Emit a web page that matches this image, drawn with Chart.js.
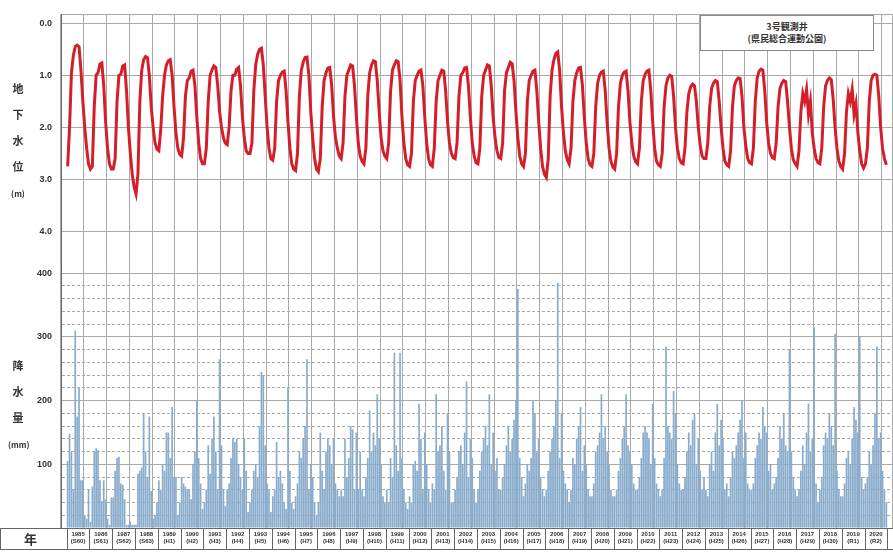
<!DOCTYPE html>
<html lang="ja">
<head>
<meta charset="utf-8">
<script src="https://cdn.jsdelivr.net/npm/chart.js@4.4.1/dist/chart.umd.min.js"></script>
<style>
  html, body { margin: 0; padding: 0; background: #fff; }
  #wrap { position: relative; width: 893px; height: 552px; font-family: "Noto Sans CJK JP", sans-serif; color: #333; }
  #chart { position: absolute; left: 0; top: 0; }
  .vtitle { position: absolute; left: 8px; width: 20px; text-align: center; font-weight: bold; font-size: 11px; line-height: 26px; }
  .vtitle small { font-size: 8px; font-weight: bold; }
  #yearCell { position: absolute; left: 0; top: 529px; width: 61px; height: 20px; line-height: 20px; text-align: center; font-weight: bold; font-size: 13px; }
  #legendBox { position: absolute; left: 700px; top: 15px; width: 174px; height: 36px; border: 1px solid #888; background: #fff;
               text-align: center; font-size: 9px; font-weight: bold; line-height: 12px; padding-top: 5px; box-sizing: border-box; }
</style>
</head>
<body>
<div id="wrap">
  <canvas id="chart" width="893" height="552"></canvas>
  <div class="vtitle" style="top:75px">地<br>下<br>水<br>位<br><small>(m)</small></div>
  <div class="vtitle" style="top:352px">降<br>水<br>量<br><small>(mm)</small></div>
  <div id="yearCell">年</div>
  <div id="legendBox">3号観測井<br>(県民総合運動公園)</div>
</div>
<script>
const years = [1985, 1986, 1987, 1988, 1989, 1990, 1991, 1992, 1993, 1994, 1995, 1996,
  1997, 1998, 1999, 2000, 2001, 2002, 2003, 2004, 2005, 2006, 2007, 2008,
  2009, 2010, 2011, 2012, 2013, 2014, 2015, 2016, 2017, 2018, 2019, 2020];
const eraLabels = ['(S60)', '(S61)', '(S62)', '(S63)', '(H1)', '(H2)', '(H3)', '(H4)', '(H5)', '(H6)', '(H7)', '(H8)',
  '(H9)', '(H10)', '(H11)', '(H12)', '(H13)', '(H14)', '(H15)', '(H16)', '(H17)', '(H18)', '(H19)', '(H20)',
  '(H21)', '(H22)', '(H23)', '(H24)', '(H25)', '(H26)', '(H27)', '(H28)', '(H29)', '(H30)', '(R1)', '(R2)'];
const levelTicks = [0, 1, 2, 3, 4];
const rainLabelTicks = [100, 200, 300, 400];

// groundwater depth (m), monthly Jan..Dec, one row per year
const groundLevel = [
  2.75, 2.00, 0.95, 0.62, 0.45, 0.42, 0.45, 0.90, 1.50, 2.00, 2.40, 2.70,
  2.80, 2.75, 1.60, 1.00, 0.95, 0.78, 0.76, 1.20, 1.90, 2.40, 2.70, 2.80,
  2.80, 2.60, 1.50, 1.00, 0.98, 0.82, 0.80, 1.30, 2.00, 2.50, 2.90, 3.15,
  3.28, 2.90, 1.50, 0.90, 0.70, 0.64, 0.66, 1.00, 1.60, 2.00, 2.30, 2.42,
  2.45, 2.05, 1.40, 1.00, 0.80, 0.72, 0.70, 1.00, 1.60, 2.10, 2.40, 2.52,
  2.55, 2.20, 1.40, 1.10, 1.05, 0.92, 0.90, 1.20, 1.80, 2.30, 2.60, 2.70,
  2.70, 2.40, 1.50, 1.00, 0.90, 0.82, 0.85, 1.20, 1.70, 2.00, 2.20, 2.30,
  2.33, 2.00, 1.30, 1.00, 1.00, 0.88, 0.85, 1.20, 1.80, 2.20, 2.45, 2.50,
  2.50, 2.30, 1.30, 0.80, 0.60, 0.50, 0.48, 0.80, 1.40, 2.00, 2.40, 2.60,
  2.63, 2.40, 1.50, 1.10, 1.00, 0.94, 0.92, 1.30, 1.90, 2.40, 2.70, 2.80,
  2.83, 2.50, 1.40, 0.90, 0.75, 0.66, 0.65, 1.00, 1.70, 2.20, 2.60, 2.80,
  2.85, 2.60, 1.60, 1.10, 0.95, 0.86, 0.85, 1.20, 1.80, 2.20, 2.40, 2.55,
  2.60, 2.30, 1.40, 1.00, 0.90, 0.80, 0.82, 1.20, 1.80, 2.30, 2.55, 2.65,
  2.70, 2.40, 1.40, 0.95, 0.80, 0.72, 0.74, 1.10, 1.70, 2.20, 2.45, 2.55,
  2.60, 2.30, 1.30, 0.90, 0.80, 0.72, 0.74, 1.10, 1.80, 2.30, 2.60, 2.72,
  2.75, 2.50, 1.50, 1.10, 1.00, 0.92, 0.90, 1.20, 1.80, 2.30, 2.60, 2.72,
  2.75, 2.40, 1.50, 1.10, 1.00, 0.90, 0.92, 1.30, 1.90, 2.30, 2.50, 2.58,
  2.60, 2.30, 1.40, 1.00, 0.95, 0.86, 0.85, 1.20, 1.80, 2.30, 2.55, 2.68,
  2.70, 2.40, 1.40, 1.00, 0.90, 0.80, 0.82, 1.20, 1.80, 2.20, 2.45, 2.58,
  2.60, 2.30, 1.30, 0.95, 0.85, 0.75, 0.78, 1.10, 1.70, 2.20, 2.55, 2.70,
  2.75, 2.50, 1.50, 1.10, 1.00, 0.92, 0.90, 1.30, 1.90, 2.40, 2.75, 2.90,
  2.96, 2.60, 1.40, 0.90, 0.70, 0.58, 0.55, 0.90, 1.60, 2.10, 2.45, 2.62,
  2.70, 2.40, 1.50, 1.10, 0.95, 0.86, 0.85, 1.20, 1.80, 2.30, 2.60, 2.72,
  2.75, 2.50, 1.60, 1.15, 1.00, 0.94, 0.92, 1.30, 1.90, 2.40, 2.65, 2.76,
  2.80, 2.50, 1.60, 1.15, 1.00, 0.94, 0.92, 1.30, 1.90, 2.30, 2.55, 2.66,
  2.70, 2.40, 1.50, 1.10, 0.98, 0.92, 0.90, 1.30, 1.90, 2.40, 2.65, 2.72,
  2.75, 2.50, 1.60, 1.20, 1.05, 1.00, 1.02, 1.40, 2.00, 2.40, 2.60, 2.68,
  2.70, 2.40, 1.70, 1.35, 1.22, 1.17, 1.20, 1.50, 2.00, 2.35, 2.55, 2.60,
  2.60, 2.30, 1.60, 1.25, 1.15, 1.10, 1.12, 1.50, 2.00, 2.40, 2.65, 2.72,
  2.75, 2.45, 1.60, 1.20, 1.10, 1.05, 1.06, 1.40, 2.00, 2.35, 2.60, 2.68,
  2.70, 2.40, 1.50, 1.05, 0.92, 0.88, 0.90, 1.30, 1.90, 2.30, 2.50, 2.58,
  2.60, 2.30, 1.60, 1.25, 1.15, 1.10, 1.12, 1.50, 2.00, 2.40, 2.62, 2.70,
  2.75, 2.45, 1.70, 1.35, 1.50, 1.27, 1.75, 1.50, 2.10, 2.40, 2.60, 2.68,
  2.70, 2.40, 1.60, 1.20, 1.10, 1.05, 1.08, 1.45, 2.00, 2.40, 2.65, 2.75,
  2.80, 2.50, 1.70, 1.35, 1.50, 1.27, 1.75, 1.55, 2.10, 2.45, 2.70, 2.78,
  2.70, 2.40, 1.50, 1.10, 1.00, 0.98, 1.00, 1.40, 2.00, 2.40, 2.60, 2.72
];

// monthly precipitation (mm), Jan..Dec, one row per year
const rainfall = [
  105, 148, 120, 60, 310, 175, 220, 75, 75, 20, 15, 60,
  10, 65, 120, 125, 122, 75, 42, 75, 45, 15, 5, 48,
  48, 90, 110, 112, 70, 68, 45, 5, 5, 10, 5, 5,
  5, 85, 90, 95, 180, 120, 80, 175, 58, 15, 20, 40,
  75, 60, 100, 90, 150, 150, 110, 190, 80, 80, 20, 40,
  80, 70, 65, 60, 60, 45, 100, 120, 200, 110, 70, 30,
  40, 60, 130, 85, 140, 175, 120, 60, 265, 130, 60, 35,
  60, 70, 110, 140, 135, 140, 100, 80, 60, 140, 90, 25,
  40, 60, 90, 100, 80, 160, 245, 240, 130, 70, 60, 25,
  50, 60, 135, 80, 90, 70, 40, 30, 220, 90, 40, 30,
  50, 70, 120, 110, 140, 160, 265, 60, 100, 80, 40, 20,
  40, 150, 90, 60, 120, 140, 130, 100, 140, 70, 60, 50,
  60, 50, 140, 80, 110, 160, 155, 60, 150, 60, 120, 60,
  50, 80, 110, 185, 120, 150, 130, 210, 140, 100, 50, 40,
  60, 40, 110, 80, 275, 130, 90, 275, 110, 60, 40, 30,
  50, 40, 100, 105, 90, 195, 140, 60, 150, 100, 60, 40,
  70, 60, 210, 120, 130, 160, 90, 60, 180, 120, 40, 40,
  60, 80, 120, 130, 100, 150, 230, 80, 140, 110, 60, 40,
  60, 90, 120, 140, 160, 130, 210, 100, 150, 90, 110, 60,
  60, 80, 100, 130, 160, 120, 140, 170, 200, 375, 110, 80,
  50, 70, 100, 90, 110, 200, 180, 120, 140, 80, 60, 50,
  60, 90, 120, 140, 160, 200, 385, 110, 180, 90, 70, 60,
  40, 60, 110, 100, 140, 160, 190, 90, 130, 100, 60, 50,
  50, 70, 120, 130, 150, 210, 140, 160, 120, 100, 60, 50,
  50, 60, 90, 110, 140, 160, 210, 130, 120, 100, 70, 60,
  60, 80, 110, 150, 160, 150, 140, 100, 195, 110, 70, 60,
  50, 60, 110, 285, 160, 150, 140, 215, 180, 100, 70, 60,
  60, 80, 120, 150, 130, 170, 180, 100, 140, 90, 60, 80,
  60, 50, 100, 120, 90, 150, 195, 130, 170, 140, 60, 70,
  50, 80, 120, 110, 130, 150, 170, 200, 110, 150, 70, 60,
  60, 70, 110, 130, 150, 140, 190, 160, 150, 90, 100, 60,
  70, 80, 110, 160, 140, 180, 130, 120, 280, 120, 80, 60,
  50, 60, 90, 130, 100, 150, 195, 120, 140, 315, 70, 40,
  60, 80, 130, 150, 140, 180, 160, 130, 305, 90, 60, 50,
  50, 70, 110, 120, 100, 140, 190, 170, 150, 300, 80, 60,
  70, 80, 120, 100, 130, 180, 285, 140, 150, 90, 60, 40
];

const ctx = document.getElementById('chart');
const GRID = '#a9a9a9';
const AXIS = '#666';
const TICK_FONT = { family: 'Liberation Sans', size: 9, weight: 'bold' };

function monthX(i) {
  return years[0] + (i + 0.5) / 12;
}

const levelPoints = groundLevel.map((v, i) => ({ x: monthX(i), y: v }));
const rainPoints = rainfall.map((v, i) => ({ x: monthX(i), y: v }));

// row of year labels under the plot, boxed like a table
const yearRowPlugin = {
  id: 'yearRow',
  afterDraw(chart) {
    const c = chart.ctx;
    const xs = chart.scales.x;
    const top = chart.chartArea.bottom;
    const bottom = top + 21;
    c.save();
    c.strokeStyle = AXIS;
    c.lineWidth = 1;
    c.beginPath();
    c.moveTo(0, top + 0.5); c.lineTo(chart.chartArea.left, top + 0.5);
    c.moveTo(0, bottom + 0.5); c.lineTo(chart.width, bottom + 0.5);
    c.moveTo(0.5, top); c.lineTo(0.5, bottom);
    for (let y = years[0]; y <= years[years.length - 1] + 1; y++) {
      const px = Math.round(xs.getPixelForValue(y)) + 0.5;
      c.moveTo(px, top); c.lineTo(px, bottom);
    }
    c.stroke();
    c.restore();
  }
};

new Chart(ctx, {
  type: 'bar',
  data: {
    datasets: [
      {
        type: 'line',
        data: levelPoints,
        yAxisID: 'yL',
        borderColor: '#d41e29',
        borderWidth: 3,
        pointRadius: 0,
        tension: 0,
        order: 0
      },
      {
        type: 'bar',
        data: rainPoints,
        yAxisID: 'yR',
        backgroundColor: '#8badcd',
        borderWidth: 0,
        barPercentage: 0.9,
        categoryPercentage: 1,
        order: 1
      }
    ]
  },
  options: {
    responsive: false,
    animation: false,
    layout: { padding: { top: 4, left: 0, right: 0, bottom: 0 } },
    plugins: { legend: { display: false }, tooltip: { enabled: false } },
    scales: {
      x: {
        type: 'linear',
        min: years[0],
        max: years[years.length - 1] + 1,
        afterBuildTicks: (s) => {
          const t = [];
          years.forEach(y => { t.push({ value: y }); t.push({ value: y + 0.5 }); });
          t.push({ value: years[years.length - 1] + 1 });
          s.ticks = t;
        },
        afterFit: (s) => { s.height = 24; },
        grid: {
          color: (c) => (c.tick && c.tick.value % 1 !== 0) ? 'rgba(0,0,0,0)' : GRID,
          drawTicks: false
        },
        border: { color: AXIS },
        ticks: {
          autoSkip: false,
          maxRotation: 0,
          padding: 3,
          color: '#333',
          font: { family: 'Liberation Sans', size: 6, weight: 'bold' },
          callback: (v) => {
            if (v % 1 === 0) return '';
            const i = Math.floor(v - years[0]);
            return [String(years[i]), eraLabels[i]];
          }
        }
      },
      yR: {
        type: 'linear',
        position: 'left',
        stack: 'panels',
        stackWeight: 260,
        min: 0,
        max: 400,
        afterFit: (s) => { s.width = 61; },
        ticks: {
          stepSize: 20,
          autoSkip: false,
          padding: 9,
          color: '#333',
          font: TICK_FONT,
          callback: (v) => rainLabelTicks.includes(v) ? String(v) : ''
        },
        grid: { color: GRID, drawTicks: false },
        border: {
          color: AXIS,
          dash: (c) => (c.tick && c.tick.value % 100 !== 0) ? [3, 2] : []
        }
      },
      yL: {
        type: 'linear',
        position: 'left',
        stack: 'panels',
        stackWeight: 264,
        min: -0.17,
        max: 4.8,
        reverse: true,
        afterBuildTicks: (s) => {
          s.ticks = [{ value: s.min }].concat(levelTicks.map(v => ({ value: v })));
        },
        afterFit: (s) => { s.width = 61; },
        ticks: {
          autoSkip: false,
          padding: 9,
          color: '#333',
          font: TICK_FONT,
          callback: (v) => v < 0 ? '' : v.toFixed(1)
        },
        grid: { color: GRID, drawTicks: false },
        border: { color: AXIS }
      }
    }
  },
  plugins: [yearRowPlugin]
});
</script>
</body>
</html>
